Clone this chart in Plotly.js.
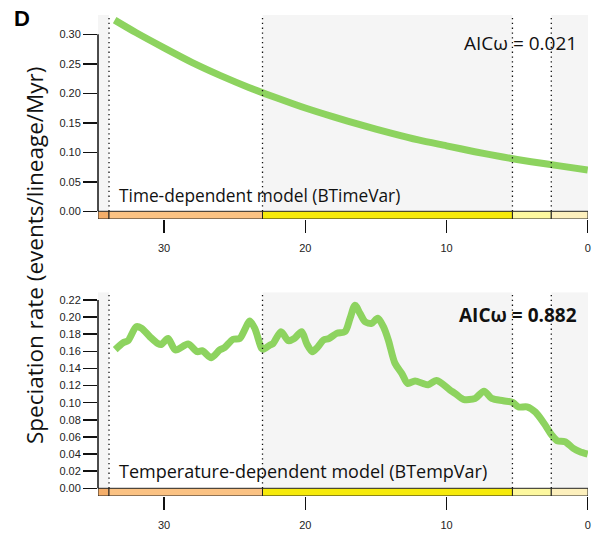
<!DOCTYPE html>
<html>
<head>
<meta charset="utf-8">
<script src="https://cdn.plot.ly/plotly-3.0.1.min.js"></script>
<style>html,body{margin:0;padding:0;background:#fff;}#chart{width:595px;height:538px;}</style>
</head>
<body>
<div id="chart"></div>
<script>
// Ages (Myr before present) and speciation rates
const timeAges = [33.5, 32, 30, 28, 26, 24, 22, 20, 18, 16, 14, 12, 10, 8, 6, 4, 2, 0];
const timeRates = [0.324, 0.303, 0.277, 0.252, 0.230, 0.210, 0.192, 0.175, 0.160, 0.146, 0.133, 0.121, 0.111, 0.101, 0.092, 0.084, 0.077, 0.070];

const tempAges = [33.46, 32.9, 32.55, 31.97, 31.6, 31.0, 30.43, 30.2, 29.72, 29.2, 28.3, 27.65, 27.3, 26.66, 26.06, 25.7, 25.12, 24.65, 24.3, 23.94, 23.58, 23.1, 22.97, 22.5, 22.27, 21.72, 21.2, 20.78, 20.26, 19.9, 19.5, 19.12, 18.72, 18.32, 17.78, 17.19, 16.83, 16.48, 16.13, 15.77, 15.3, 14.87, 14.47, 14.12, 13.65, 13.17, 12.75, 12.23, 11.64, 11.3, 10.7, 9.75, 9.4, 8.81, 7.98, 7.35, 6.8, 5.98, 5.31, 4.9, 4.3, 3.7, 3.1, 2.55, 2.15, 1.61, 1.02, 0.55, 0];
const tempRates = [0.162, 0.170, 0.1725, 0.1888, 0.187, 0.177, 0.169, 0.168, 0.175, 0.1616, 0.1686, 0.1596, 0.1608, 0.1526, 0.1616, 0.1647, 0.174, 0.175, 0.185, 0.1955, 0.187, 0.1636, 0.1624, 0.1674, 0.1694, 0.183, 0.1724, 0.175, 0.183, 0.169, 0.1596, 0.165, 0.1732, 0.175, 0.181, 0.183, 0.1986, 0.214, 0.2044, 0.1946, 0.1927, 0.1986, 0.1888, 0.1732, 0.146, 0.1343, 0.1225, 0.1255, 0.1222, 0.121, 0.126, 0.1148, 0.111, 0.104, 0.105, 0.1135, 0.105, 0.1023, 0.1003, 0.095, 0.0952, 0.089, 0.076, 0.0623, 0.0555, 0.0545, 0.0467, 0.0428, 0.040];

// Geological epochs (Myr)
const epochNames = ["Eocene", "Oligocene", "Miocene", "Pliocene", "Pleistocene"];
const epochStart = [34.68, 33.9, 23.03, 5.33, 2.58];
const epochEnd = [33.9, 23.03, 5.33, 2.58, -0.02];
const epochColors = ["#f4ae6a", "#fbc283", "#f6ea0a", "#fdf89f", "#fdf0bd"];
const epochShaded = [true, false, true, false, true];
const boundaries = [33.9, 23.03, 5.33, 2.58];

const xTicks = [30, 20, 10, 0];
const yTicksTop = [0, 0.05, 0.10, 0.15, 0.20, 0.25, 0.30];
const yTicksBottom = [0, 0.02, 0.04, 0.06, 0.08, 0.10, 0.12, 0.14, 0.16, 0.18, 0.20, 0.22];

const green = "#8dd35f";
const tickFont = {family: "Liberation Sans, Arial, sans-serif", size: 11, color: "#222"};
const textFont = "Open Sans, Noto Sans, sans-serif";

const panels = [
  {x: "x", y: "y", yTop: 0.3327, yBot: -0.01305, yAxisTop: 0.30},
  {x: "x2", y: "y2", yTop: 0.2290, yBot: -0.0090, yAxisTop: 0.22}
];

const shapes = [];
panels.forEach(p => {
  for (let i = 0; i < epochNames.length; i++) {
    if (epochShaded[i]) {
      shapes.push({type: "rect", xref: p.x, yref: p.y, x0: epochStart[i], x1: epochEnd[i], y0: 0, y1: p.yTop,
        fillcolor: "#f5f5f5", line: {width: 0}, layer: "below"});
    }
  }
  for (let i = 0; i < epochNames.length; i++) {
    shapes.push({type: "rect", xref: p.x, yref: p.y, x0: epochStart[i], x1: epochEnd[i], y0: p.yBot, y1: 0,
      fillcolor: epochColors[i], line: {color: "#222", width: 1}, layer: "above"});
  }
  boundaries.forEach(b => {
    shapes.push({type: "line", xref: p.x, yref: p.y, x0: b, x1: b, y0: 0, y1: p.yTop,
      line: {color: "#111", width: 1.3, dash: "1.3px,3.5px"}, layer: "above"});
  });
  shapes.push({type: "line", xref: p.x + " domain", yref: p.y, x0: 0, x1: 0, y0: 0, y1: p.yAxisTop,
    line: {color: "#111", width: 1.5}, layer: "above"});
});

const traces = [
  {x: timeAges, y: timeRates, xaxis: "x", yaxis: "y", type: "scatter", mode: "lines",
    line: {color: green, width: 7, shape: "spline", smoothing: 0.8}, hoverinfo: "skip"},
  {x: tempAges, y: tempRates, xaxis: "x2", yaxis: "y2", type: "scatter", mode: "lines",
    line: {color: green, width: 7, shape: "spline", smoothing: 0.8}, hoverinfo: "skip"}
];

const xdom = [98 / 595, 588 / 595];
function xAxis(anchor) {
  return {domain: xdom, anchor: anchor, range: [34.68, -0.02], tickvals: xTicks, ticktext: xTicks.map(String),
    ticks: "outside", ticklen: 13, tickwidth: 1.5, tickcolor: "#111", showgrid: false, zeroline: false,
    showline: false, tickfont: tickFont, ticklabelstandoff: 6, fixedrange: true};
}
function yAxis(anchor, dom, range, vals) {
  return {domain: dom, anchor: anchor, range: range, tickvals: vals, ticktext: vals.map(v => v.toFixed(2)),
    ticks: "outside", ticklen: 14, tickwidth: 1.5, tickcolor: "#111", showgrid: false, zeroline: false,
    showline: false, tickfont: tickFont, fixedrange: true};
}

const layout = {
  width: 595, height: 538,
  margin: {l: 0, r: 0, t: 0, b: 0},
  paper_bgcolor: "#fff", plot_bgcolor: "rgba(0,0,0,0)",
  showlegend: false,
  xaxis: xAxis("y"),
  yaxis: yAxis("x", [(538 - 219) / 538, (538 - 15) / 538], [-0.01305, 0.3327], yTicksTop),
  xaxis2: xAxis("y2"),
  yaxis2: yAxis("x2", [(538 - 496) / 538, (538 - 292.3) / 538], [-0.0090, 0.2290], yTicksBottom),
  shapes: shapes,
  annotations: [
    {text: "<b>D</b>", xref: "paper", yref: "paper", x: 22 / 595, y: (538 - 19) / 538, xanchor: "center", yanchor: "middle",
      showarrow: false, font: {family: "Liberation Sans, Arial, sans-serif", size: 22, color: "#000"}},
    {text: "Speciation rate (events/lineage/Myr)", xref: "paper", yref: "paper", x: 34 / 595, y: (538 - 256) / 538,
      xanchor: "center", yanchor: "middle", textangle: -90, showarrow: false,
      font: {family: textFont, size: 22.5, color: "#111"}},
    {text: "Time-dependent model (BTimeVar)", xref: "paper", yref: "paper", x: 117 / 595, y: (538 - 196) / 538,
      xanchor: "left", yanchor: "middle", showarrow: false, font: {family: textFont, size: 17.3, color: "#111"}},
    {text: "AICω = 0.021", xref: "paper", yref: "paper", x: 579 / 595, y: (538 - 43) / 538,
      xanchor: "right", yanchor: "middle", showarrow: false, font: {family: textFont, size: 19, color: "#111"}},
    {text: "Temperature-dependent model (BTempVar)", xref: "paper", yref: "paper", x: 117 / 595, y: (538 - 471) / 538,
      xanchor: "left", yanchor: "middle", showarrow: false, font: {family: textFont, size: 18, color: "#111"}},
    {text: "<b>AICω = 0.882</b>", xref: "paper", yref: "paper", x: 579 / 595, y: (538 - 315) / 538,
      xanchor: "right", yanchor: "middle", showarrow: false, font: {family: textFont, size: 19, color: "#111"}}
  ]
};

Plotly.newPlot("chart", traces, layout, {staticPlot: true, displayModeBar: false});
</script>
</body>
</html>
